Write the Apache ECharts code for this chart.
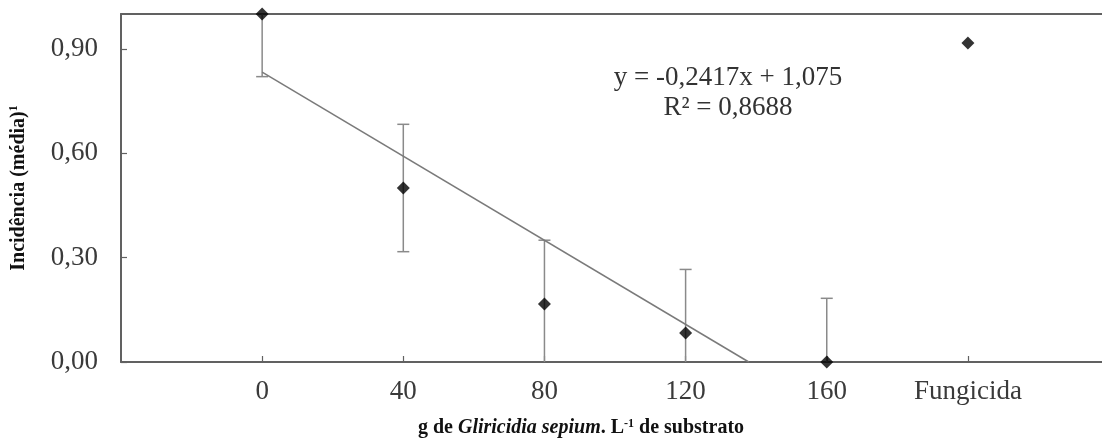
<!DOCTYPE html>
<html>
<head>
<meta charset="utf-8">
<script src="https://cdn.jsdelivr.net/npm/echarts@6/dist/echarts.min.js"></script>
<style>
html,body{margin:0;padding:0;background:#fff;}
#chart{width:1102px;height:438px;}
</style>
</head>
<body>
<div id="chart"></div>
<script>
// ---- data ----
const doseX      = [0, 40, 80, 120, 160, 200];          // 200 = "Fungicida" slot
const meanY      = [1.0, 0.5, 0.167, 0.083, 0.0, 0.917];
const errY       = [0.18, 0.183, 0.183, 0.183, 0.183, null];
const tickValues = [0, 40, 80, 120, 160, 200];
const tickLabels = ['0', '40', '80', '120', '160', 'Fungicida'];
const yTicks     = [0, 0.3, 0.6, 0.9];
const trendX     = [0, 137.9];
const trendY     = [0.833, 0];
const eqLine1    = 'y = -0,2417x + 1,075';
const eqLine2    = 'R² = 0,8688';

const points = doseX.map((x, i) => [x, meanY[i]]);
const errData = doseX.map((x, i) => [x, meanY[i], errY[i]]).filter(d => d[2] != null);
const trendData = trendX.map((x, i) => [x, trendY[i]]);

const FONT = '"Liberation Serif", "Times New Roman", serif';
const AXIS_COLOR = '#616161';
const YMIN = 0, YMAX = 1;
const XMIN = -40, XMAX = 238;

const titleRich = {
  b:   { fontFamily: FONT, fontSize: 20, fontWeight: 'bold', fill: '#111', color: '#111' },
  bi:  { fontFamily: FONT, fontSize: 20, fontWeight: 'bold', fontStyle: 'italic', fill: '#111', color: '#111' },
  sup: { fontFamily: FONT, fontSize: 12, fontWeight: 'bold', fill: '#111', color: '#111', padding: [0, 0, 9, 0] }
};

const chart = echarts.init(document.getElementById('chart'));
chart.setOption({
  animation: false,
  backgroundColor: '#fff',
  grid: { left: 121, top: 14, bottom: 76, right: 0, show: false },
  xAxis: [{
    type: 'value', min: XMIN, max: XMAX, interval: 40,
    splitLine: { show: false },
    axisLine: { show: true, onZero: false, lineStyle: { color: AXIS_COLOR, width: 2 } },
    axisTick: { show: true, inside: true, length: 6, customValues: tickValues,
                lineStyle: { color: AXIS_COLOR, width: 1.2 } },
    axisLabel: {
      customValues: tickValues,
      margin: 16,
      fontFamily: FONT, fontSize: 27, color: '#3a3a3a',
      formatter: v => { const i = tickValues.indexOf(v); return i >= 0 ? tickLabels[i] : ''; }
    }
  }, {
    type: 'value', position: 'top', min: XMIN, max: XMAX,
    splitLine: { show: false },
    axisLine: { show: true, onZero: false, lineStyle: { color: AXIS_COLOR, width: 2 } },
    axisTick: { show: false },
    axisLabel: { show: false }
  }],
  yAxis: {
    type: 'value', min: YMIN, max: YMAX,
    splitLine: { show: false },
    axisLine: { show: true, onZero: false, lineStyle: { color: AXIS_COLOR, width: 2 } },
    axisTick: { show: true, inside: true, length: 6, customValues: yTicks,
                lineStyle: { color: AXIS_COLOR, width: 1.2 } },
    axisLabel: {
      customValues: yTicks,
      margin: 23,
      fontFamily: FONT, fontSize: 27, color: '#3a3a3a',
      formatter: v => v.toFixed(2).replace('.', ',')
    },
    name: '{b|Incidência (média)}{sup|1}',
    nameLocation: 'middle', nameRotate: 90, nameGap: 92,
    nameTextStyle: { rich: titleRich }
  },
  graphic: [{
    type: 'text', x: 728, y: 93, z: 10,
    style: {
      text: eqLine1 + '\n' + eqLine2,
      fontFamily: FONT, fontSize: 27, fill: '#333',
      align: 'center', verticalAlign: 'middle', lineHeight: 30
    }
  }, {
    type: 'text', x: 581, y: 428, z: 10,
    style: {
      text: '{b|g de }{bi|Gliricidia sepium}{b|. L}{sup|-1}{b| de substrato}',
      rich: titleRich,
      align: 'center', verticalAlign: 'middle'
    }
  }],
  series: [
    {
      type: 'custom',
      z: 2,
      data: errData,
      renderItem: function (params, api) {
        const x = api.value(0), m = api.value(1), e = api.value(2);
        const hi = m + e, lo = m - e;
        const hiC = Math.min(hi, YMAX), loC = Math.max(lo, YMIN);
        const pTop = api.coord([x, hiC]);
        const pBot = api.coord([x, loC]);
        const half = 6;
        const style = { stroke: '#8a8a8a', lineWidth: 1.5 };
        const children = [{ type: 'line', shape: { x1: pTop[0], y1: pTop[1], x2: pBot[0], y2: pBot[1] }, style }];
        if (hi <= YMAX) children.push({ type: 'line', shape: { x1: pTop[0] - half, y1: pTop[1], x2: pTop[0] + half, y2: pTop[1] }, style });
        if (lo >= YMIN) children.push({ type: 'line', shape: { x1: pBot[0] - half, y1: pBot[1], x2: pBot[0] + half, y2: pBot[1] }, style });
        return { type: 'group', children };
      }
    },
    {
      type: 'line',
      z: 3,
      data: trendData,
      symbol: 'none',
      lineStyle: { color: '#7a7a7a', width: 1.5 }
    },
    {
      type: 'scatter',
      z: 5,
      clip: false,
      data: points,
      symbol: 'diamond',
      symbolSize: 13,
      itemStyle: { color: '#000' }
    }
  ]
});
</script>
</body>
</html>
